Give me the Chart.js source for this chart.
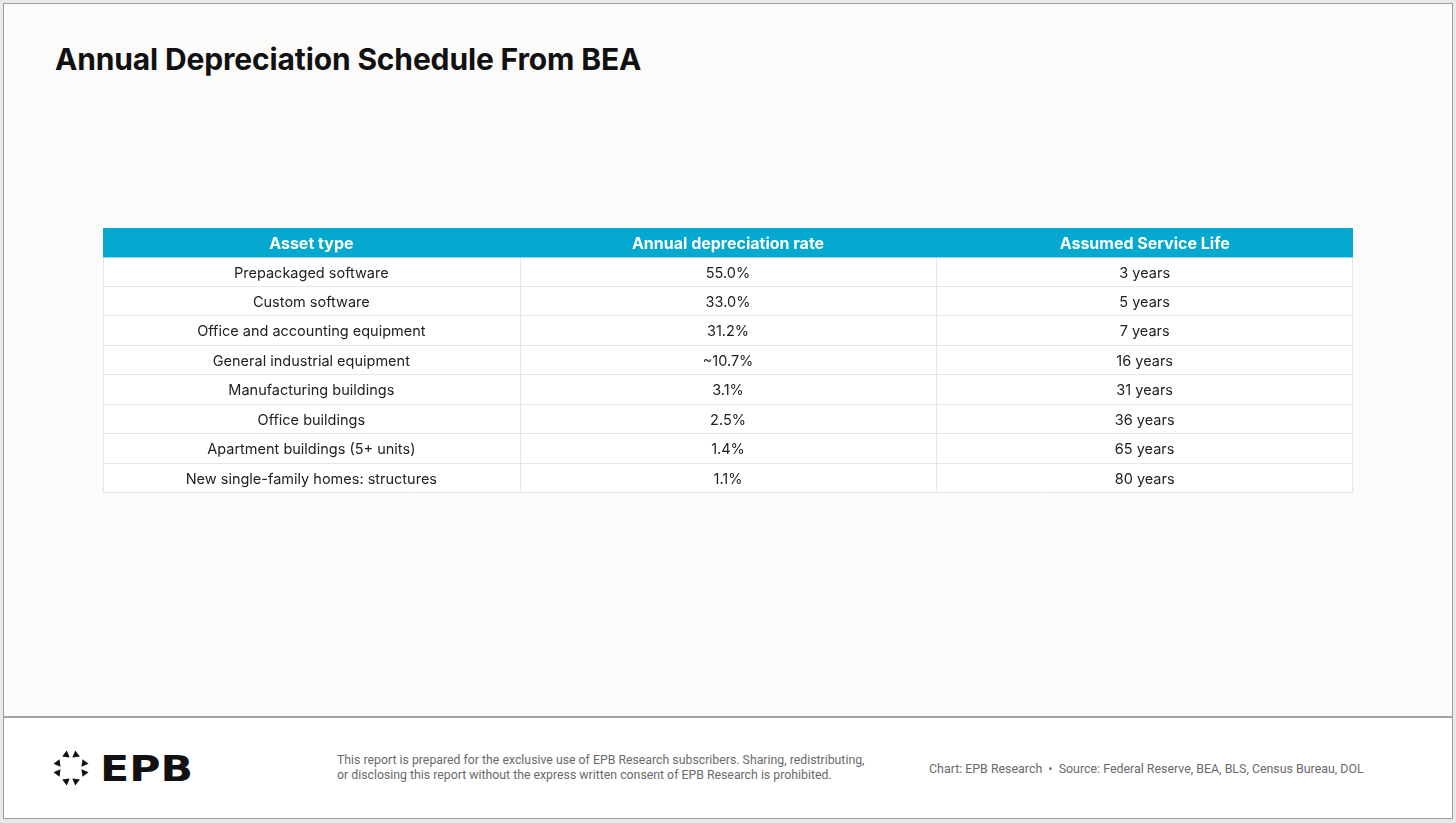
<!DOCTYPE html>
<html>
<head>
<meta charset="utf-8">
<script src="https://cdn.jsdelivr.net/npm/chart.js@4.4.1/dist/chart.umd.min.js"></script>
<style>
  html, body { margin: 0; padding: 0; }
  body { width: 1456px; height: 823px; background: #e9e9e9; position: relative; overflow: hidden; font-family: Inter, "Noto Sans", sans-serif; }
  #frame { position: absolute; left: 3px; top: 3px; width: 1450px; height: 816px; box-sizing: border-box; border: 1px solid #9d9d9d; background: #ffffff; }
  #main { position: absolute; left: 0; top: 0; width: 1448px; height: 712px; background: #fbfbf9; border-bottom: 2px solid #a3a3a3; }
  #title { position: absolute; left: 51px; top: 37px; margin: 0; font-size: 30px; font-weight: 700; letter-spacing: -0.15px; color: #111; }
  #chartBox { position: absolute; left: 0; top: 0; width: 1456px; height: 716px; }
  #logo { position: absolute; left: 45px; top: 742px; }
  #disclaimer { position: absolute; left: 333px; top: 749px; font-family: Roboto, sans-serif; font-size: 12.3px; line-height: 15px; color: #6a6a6a; }
  #source { position: absolute; left: 925px; top: 757px; font-family: Roboto, sans-serif; font-size: 12.4px; color: #6a6a6a; white-space: pre; }
</style>
</head>
<body>
<div id="frame">
  <div id="main">
    <h1 id="title">Annual Depreciation Schedule From BEA</h1>
  </div>
  <svg id="logo" width="160" height="50" viewBox="0 0 160 50"></svg>
  <div id="disclaimer">This report is prepared for the exclusive use of EPB Research subscribers. Sharing, redistributing,<br>or disclosing this report without the express written consent of EPB Research is prohibited.</div>
  <div id="source">Chart: EPB Research  •  Source: Federal Reserve, BEA, BLS, Census Bureau, DOL</div>
</div>
<div id="chartBox"><canvas id="myChart"></canvas></div>

<script>
// table content
var columns = ['Asset type', 'Annual depreciation rate', 'Assumed Service Life'];
var assetTypes = [
	'Prepackaged software',
	'Custom software',
	'Office and accounting equipment',
	'General industrial equipment',
	'Manufacturing buildings',
	'Office buildings',
	'Apartment buildings (5+ units)',
	'New single-family homes: structures'
];
var depreciationRates = [55.0, 33.0, 31.2, 10.7, 3.1, 2.5, 1.4, 1.1];
var approxRates = [false, false, false, true, false, false, false, false];
var serviceLifeYears = [3, 5, 7, 16, 31, 36, 65, 80];

var rowKeys = ['header'].concat(assetTypes);

function cellText(row, col) {
	if (col === 0) return assetTypes[row];
	if (col === 1) return (approxRates[row] ? '~' : '') + depreciationRates[row].toFixed(1) + '%';
	return serviceLifeYears[row] + ' years';
}

// band edges of a category scale, from the scale's own pixel positions
function bandEdges(scale, n) {
	var edges = [];
	var step = scale.getPixelForValue(1) - scale.getPixelForValue(0);
	for (var i = 0; i < n; i++) {
		edges.push(scale.getPixelForValue(i) - step / 2);
	}
	edges.push(scale.getPixelForValue(n - 1) + step / 2);
	return edges;
}

var tablePlugin = {
	id: 'tablePlugin',
	afterDraw: function (chart) {
		var c = chart.ctx;
		var x = chart.scales.x;
		var y = chart.scales.y;
		var xs = bandEdges(x, columns.length);
		var ys = bandEdges(y, rowKeys.length);
		var left = xs[0], right = xs[xs.length - 1];
		c.save();

		// body rows
		c.fillStyle = '#ffffff';
		c.fillRect(left, ys[1], right - left, ys[ys.length - 1] - ys[1]);
		c.strokeStyle = '#e6e6e4';
		c.lineWidth = 1;
		c.beginPath();
		for (var r = 2; r < ys.length; r++) {
			c.moveTo(left, Math.round(ys[r]) - 0.5);
			c.lineTo(right, Math.round(ys[r]) - 0.5);
		}
		for (var k = 0; k < xs.length; k++) {
			var xx = k === xs.length - 1 ? Math.round(xs[k]) - 0.5 : Math.round(xs[k]) + 0.5;
			c.moveTo(xx, ys[1]);
			c.lineTo(xx, ys[ys.length - 1]);
		}
		c.stroke();

		// header
		c.fillStyle = '#05a9cf';
		c.fillRect(left, ys[0], right - left, ys[1] - ys[0]);
		c.fillStyle = '#ffffff';
		c.font = '700 16px Inter, sans-serif';
		c.textAlign = 'center';
		c.textBaseline = 'middle';
		for (var h = 0; h < columns.length; h++) {
			c.fillText(columns[h], x.getPixelForValue(h), y.getPixelForValue(0) + 1);
		}

		// cells
		c.fillStyle = '#222222';
		c.font = '400 14.5px Inter, sans-serif';
		for (var i = 0; i < assetTypes.length; i++) {
			for (var j = 0; j < columns.length; j++) {
				c.fillText(cellText(i, j), x.getPixelForValue(j), y.getPixelForValue(i + 1) + 1);
			}
		}
		c.restore();
	}
};

var ctx = document.getElementById('myChart');
var myChart = new Chart(ctx, {
	type: 'bar',
	data: {
		labels: columns,
		datasets: []
	},
	options: {
		responsive: true,
		maintainAspectRatio: false,
		animation: false,
		events: [],
		layout: {
			padding: { left: 103, right: 103, top: 228, bottom: 223 }
		},
		plugins: {
			legend: { display: false },
			tooltip: { enabled: false }
		},
		scales: {
			x: { type: 'category', labels: columns, offset: true, display: false },
			y: { type: 'category', labels: rowKeys, offset: true, display: false }
		}
	},
	plugins: [tablePlugin]
});

// logo: ring of small arrows plus wordmark
(function () {
	var svg = document.getElementById('logo');
	var ns = 'http://www.w3.org/2000/svg';
	var cx = 22, cy = 22, r = 14;
	for (var k = 0; k < 8; k++) {
		var ang = 22.5 + 45 * k;
		var dir = k % 2 === 0 ? 1 : -1;
		var p = document.createElementNS(ns, 'polygon');
		p.setAttribute('points',
			(cx + 3.8 * dir) + ',' + (cy - r) + ' ' +
			(cx - 2.8 * dir) + ',' + (cy - r - 3.8) + ' ' +
			(cx - 2.8 * dir) + ',' + (cy - r + 3.8));
		p.setAttribute('transform', 'rotate(' + ang + ' ' + cx + ' ' + cy + ')');
		p.setAttribute('fill', '#111');
		svg.appendChild(p);
	}
	var t = document.createElementNS(ns, 'text');
	t.setAttribute('x', '51');
	t.setAttribute('y', '35');
	t.setAttribute('font-family', 'DejaVu Sans, sans-serif');
	t.setAttribute('font-weight', '700');
	t.setAttribute('font-size', '36');
	t.setAttribute('textLength', '93');
	t.setAttribute('lengthAdjust', 'spacingAndGlyphs');
	t.setAttribute('fill', '#111');
	t.textContent = 'EPB';
	svg.appendChild(t);
})();
</script>
</body>
</html>
